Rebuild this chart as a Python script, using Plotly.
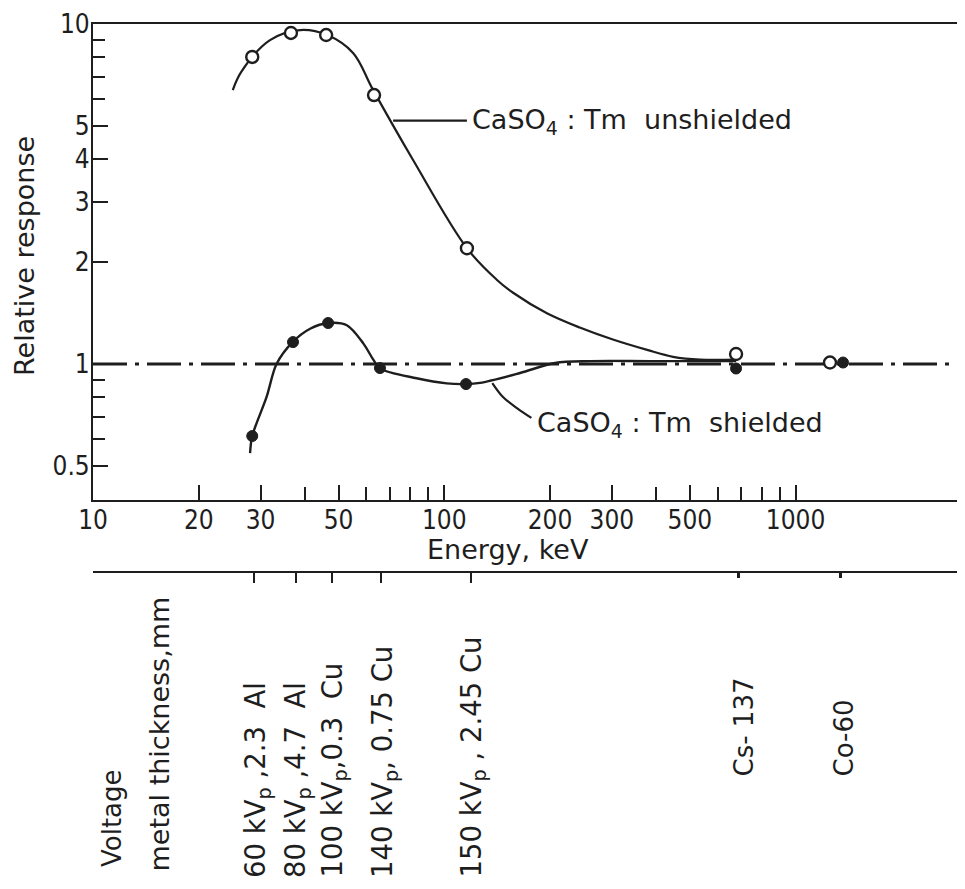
import plotly.graph_objects as go

# ---------------- data ----------------
# measured points, CaSO4:Tm unshielded (open circles)
energy_unshielded = [28.4, 36.6, 46.1, 63.1, 116.0, 677, 1253]
resp_unshielded = [8.0, 9.41, 9.28, 6.18, 2.19, 1.07, 1.01]

# measured points, CaSO4:Tm shielded (filled circles)
energy_shielded = [28.4, 37.1, 46.7, 65.6, 115.3, 677, 1365]
resp_shielded = [0.614, 1.16, 1.32, 0.973, 0.873, 0.97, 1.01]

# hand-drawn curve through the unshielded points
curve_u_energy = [25.0, 26.4, 31.9, 38.9, 46.4, 55.0, 62.7, 81.5, 116.0, 141, 157, 196, 243, 302, 378, 448, 535, 677]
curve_u_resp = [6.39, 7.22, 8.97, 9.60, 9.28, 8.22, 6.40, 3.98, 2.19, 1.77, 1.62, 1.41, 1.28, 1.18, 1.10, 1.05, 1.03, 1.03]

# hand-drawn curve through the shielded points
curve_s_energy = [28.0, 28.4, 31.2, 33.3, 37.0, 41.5, 46.8, 52.8, 58.8, 62.8, 65.6, 83.4, 101.6, 115.3, 126.4, 164.3, 206.7, 260, 385, 677]
curve_s_resp = [0.547, 0.614, 0.80, 1.0, 1.16, 1.27, 1.32, 1.30, 1.15, 1.03, 0.97, 0.908, 0.877, 0.873, 0.88, 0.941, 1.007, 1.02, 1.02, 1.02]

# leader lines of the two labels
leader_u_energy = [71.5, 116.0]
leader_u_resp = [5.2, 5.2]
leader_s_energy = [137, 146.9, 161, 177]
leader_s_resp = [0.879, 0.80, 0.742, 0.694]

# reference line (relative response = 1)
ref_energy = [10, 3100]
ref_resp = [1, 1]

# axis ticks
x_label_vals = [10, 20, 30, 50, 100, 200, 300, 500, 1000]
x_label_text = ["10", "20", "30", "50", "100", "200", "300", "500", "1000"]
x_minor_vals = [40, 60, 70, 80, 90, 400, 600, 700, 800, 900]
y_label_vals = [0.5, 1, 2, 3, 4, 5, 10]
y_label_text = ["0.5", "1", "2", "3", "4", "5", "10"]
y_minor_vals = [0.6, 0.7, 0.8, 0.9, 6, 7, 8, 9]

# secondary scale: beam qualities
beam_energy = [28.7, 37.8, 47.9, 66.0, 119.0]
beam_labels = ["60 kV<sub>p</sub> ,2.3 &nbsp;Al", "80 kV<sub>p</sub> ,4.7 &nbsp;Al",
               "100 kV<sub>p</sub>,0.3 &nbsp;Cu", "140 kV<sub>p</sub>, 0.75 Cu",
               "150 kV<sub>p</sub> , 2.45 Cu"]
source_energy = [690, 1346]
source_labels = ["Cs- 137", "Co-60"]

# ---------------- styling / layout helpers ----------------
OFF = 8                      # default body margin of the html page
PAGE_W, PAGE_H = 965, 889
W, H = PAGE_W - OFF, PAGE_H - OFF
L_PX, R_PX, T_PX, B_PX = 93, 965, 24, 572   # paper box in page pixels
PLOT_BOTTOM = 500
INK = "#1e1e1e"
FONT = "DejaVu Sans"
FONT_C = "DejaVu Sans Condensed, DejaVu Sans"


def px_x(px):
    return (px - L_PX) / (R_PX - L_PX)


def px_y(py):
    return (B_PX - py) / (B_PX - T_PX)


fig = go.Figure()

fig.add_trace(go.Scatter(x=ref_energy, y=ref_resp, mode="lines",
                         line=dict(color=INK, width=2.8, dash="34px,8px,4px,8px"),
                         hoverinfo="skip", showlegend=False))
fig.add_trace(go.Scatter(x=curve_u_energy, y=curve_u_resp, mode="lines",
                         line=dict(color=INK, width=2.2, shape="spline", smoothing=1.0),
                         hoverinfo="skip", showlegend=False))
fig.add_trace(go.Scatter(x=curve_s_energy, y=curve_s_resp, mode="lines",
                         line=dict(color=INK, width=2.4, shape="spline", smoothing=0.9),
                         hoverinfo="skip", showlegend=False))
fig.add_trace(go.Scatter(x=leader_u_energy, y=leader_u_resp, mode="lines",
                         line=dict(color=INK, width=2.2), hoverinfo="skip", showlegend=False))
fig.add_trace(go.Scatter(x=leader_s_energy, y=leader_s_resp, mode="lines",
                         line=dict(color=INK, width=2.2, shape="spline"),
                         hoverinfo="skip", showlegend=False))
fig.add_trace(go.Scatter(x=energy_unshielded, y=resp_unshielded, mode="markers",
                         marker=dict(symbol="circle", size=12, color="white",
                                     line=dict(color=INK, width=2.4)),
                         name="unshielded", showlegend=False))
fig.add_trace(go.Scatter(x=energy_shielded, y=resp_shielded, mode="markers",
                         marker=dict(symbol="circle", size=11, color=INK,
                                     line=dict(color=INK, width=1)),
                         name="shielded", showlegend=False))
# invisible trace that carries the secondary (beam quality) axis
fig.add_trace(go.Scatter(x=beam_energy + source_energy, y=[1] * 7, xaxis="x2", yaxis="y",
                         mode="markers", marker=dict(opacity=0), hoverinfo="skip",
                         showlegend=False))

xrange = [1, 3.4823]
yrange = [-0.4, 1]

fig.update_layout(
    width=W, height=H,
    margin=dict(l=L_PX - OFF, r=PAGE_W - R_PX, t=T_PX - OFF, b=H - (B_PX - OFF), pad=0),
    paper_bgcolor="white", plot_bgcolor="white",
    font=dict(family=FONT, color=INK, size=26),
    showlegend=False,
    xaxis=dict(type="log", range=xrange, tickmode="array", tickvals=x_label_vals,
               ticktext=x_label_text, ticks="inside", ticklen=15, tickwidth=2.2,
               tickcolor=INK, showline=True, linewidth=2.2, linecolor=INK,
               mirror=True, showgrid=False, zeroline=False, anchor="y",
               ticklabelstandoff=-4,
               tickfont=dict(family=FONT_C, size=26, color=INK),
               minor=dict(tickmode="array", tickvals=x_minor_vals, ticks="inside",
                          ticklen=13, tickwidth=2.2, tickcolor=INK, showgrid=False)),
    yaxis=dict(type="log", range=yrange, domain=[px_y(PLOT_BOTTOM), 1],
               tickmode="array", tickvals=y_label_vals, ticktext=y_label_text,
               ticks="inside", ticklen=15, tickwidth=2.2, tickcolor=INK,
               showline=True, linewidth=2.2, linecolor=INK, mirror=False,
               showgrid=False, zeroline=False, ticklabelstandoff=-4,
               tickfont=dict(family=FONT_C, size=26, color=INK),
               minor=dict(tickmode="array", tickvals=y_minor_vals, ticks="inside",
                          ticklen=12, tickwidth=2.2, tickcolor=INK, showgrid=False)),
    xaxis2=dict(type="log", range=xrange, overlaying="x", anchor="free", position=0,
                side="bottom", tickmode="array", tickvals=beam_energy,
                ticks="outside", ticklen=10, tickwidth=2.2, tickcolor=INK,
                showticklabels=False, showline=True, linewidth=2.2, linecolor=INK,
                showgrid=False, zeroline=False,
                minor=dict(tickmode="array", tickvals=source_energy, ticks="outside",
                           ticklen=5, tickwidth=3, tickcolor=INK, showgrid=False)),
)

ann = []
# axis titles
ann.append(dict(text="Relative response", xref="paper", yref="paper",
                x=px_x(24), y=px_y(256), textangle=-90, showarrow=False,
                xanchor="center", yanchor="middle", font=dict(size=27)))
ann.append(dict(text="Energy, keV", xref="paper", yref="paper",
                x=px_x(508), y=px_y(549), showarrow=False,
                xanchor="center", yanchor="middle", font=dict(size=27)))
# curve labels
ann.append(dict(text="CaSO<sub>4</sub> : Tm &nbsp;unshielded", xref="paper", yref="paper",
                x=px_x(470), y=px_y(122), showarrow=False,
                xanchor="left", yanchor="middle", font=dict(size=27)))
ann.append(dict(text="CaSO<sub>4</sub> : Tm &nbsp;shielded", xref="paper", yref="paper",
                x=px_x(535), y=px_y(424), showarrow=False,
                xanchor="left", yanchor="middle", font=dict(size=27)))
# left labels of the secondary scale
ann.append(dict(text="Voltage", xref="paper", yref="paper",
                x=px_x(112), y=px_y(869), textangle=-90, showarrow=False,
                xanchor="center", yanchor="bottom", font=dict(size=26)))
ann.append(dict(text="metal thickness,mm", xref="paper", yref="paper",
                x=px_x(159), y=px_y(874), textangle=-90, showarrow=False,
                xanchor="center", yanchor="bottom", font=dict(size=27)))
beam_px = [257, 297, 334, 384, 473]
for lab, bx in zip(beam_labels, beam_px):
    ann.append(dict(text=lab, xref="paper", yref="paper",
                    x=px_x(bx), y=px_y(880), textangle=-90, showarrow=False,
                    xanchor="center", yanchor="bottom", font=dict(size=27.5)))
for lab, bx in zip(source_labels, [743, 843]):
    ann.append(dict(text=lab, xref="paper", yref="paper",
                    x=px_x(bx), y=px_y(779), textangle=-90, showarrow=False,
                    xanchor="center", yanchor="bottom", font=dict(size=26)))

fig.update_layout(annotations=ann)

fig.write_html("out.html")
